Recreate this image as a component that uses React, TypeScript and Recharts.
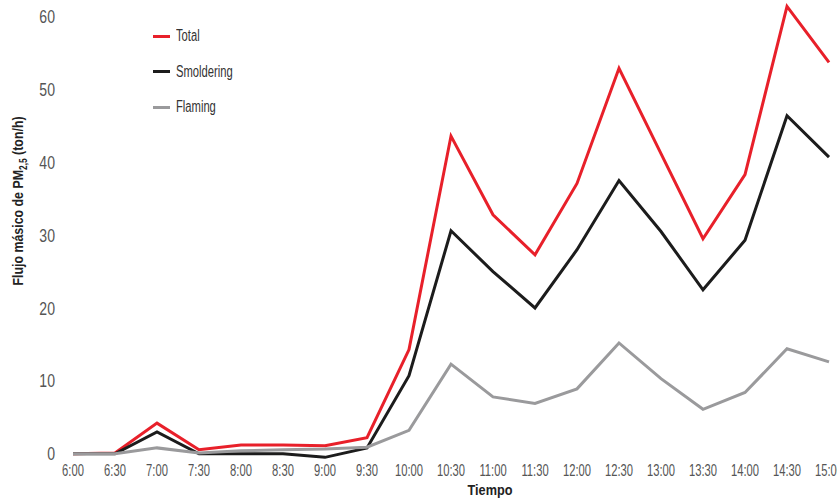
import React from 'react';
import { LineChart, Line, XAxis, YAxis, Legend } from 'recharts';

const times = ['6:00', '6:30', '7:00', '7:30', '8:00', '8:30', '9:00', '9:30', '10:00', '10:30', '11:00', '11:30', '12:00', '12:30', '13:00', '13:30', '14:00', '14:30', '15:00'];
const total = [0, 0.1, 4.2, 0.55, 1.2, 1.2, 1.1, 2.2, 14.3, 43.6, 32.8, 27.3, 37.1, 52.9, 41.2, 29.5, 38.3, 61.4, 53.7];
const smoldering = [0, 0, 3.0, 0, 0, 0, -0.5, 0.8, 10.7, 30.6, 25.0, 20.0, 28.0, 37.5, 30.5, 22.5, 29.3, 46.4, 40.7];
const flaming = [0, 0, 0.8, 0.1, 0.4, 0.55, 0.65, 0.9, 3.2, 12.3, 7.8, 6.9, 8.9, 15.2, 10.3, 6.1, 8.4, 14.4, 12.6];
const yTicks = [0, 10, 20, 30, 40, 50, 60];

const seriesInfo = [
  { key: 'total', name: 'Total', color: '#e8202a' },
  { key: 'smoldering', name: 'Smoldering', color: '#1c1c1c' },
  { key: 'flaming', name: 'Flaming', color: '#9a9a9c' },
];

const data = times.map((t, i) => ({ time: t, total: total[i], smoldering: smoldering[i], flaming: flaming[i] }));

const FONT = '"Liberation Sans", Arial, sans-serif';

const XTick = (props: any) => {
  const { x, y, payload } = props;
  return (
    <text
      x={0}
      y={0}
      transform={`translate(${x},${y + 14.5}) scale(0.68,1)`}
      textAnchor="middle"
      fontFamily={FONT}
      fontSize={16.5}
      fill="#555"
    >
      {payload.value}
    </text>
  );
};

const YTick = (props: any) => {
  const { x, y, payload } = props;
  return (
    <text
      x={0}
      y={0}
      transform={`translate(${x - 18},${y + 6.5}) scale(0.76,1)`}
      textAnchor="end"
      fontFamily={FONT}
      fontSize={18.5}
      fill="#555"
    >
      {payload.value}
    </text>
  );
};

const YLabel = () => (
  <text
    transform="translate(23,201) rotate(-90) scale(0.8,1)"
    textAnchor="middle"
    fontFamily={FONT}
    fontWeight="bold"
    fontSize={15.5}
    fill="#222"
  >
    Flujo másico de PM
    <tspan fontSize={10.5} dy={4}>2,5</tspan>
    <tspan dy={-4}> (ton/h)</tspan>
  </text>
);

const XLabel = () => (
  <text
    transform="translate(490,495) scale(0.82,1)"
    textAnchor="middle"
    fontFamily={FONT}
    fontWeight="bold"
    fontSize={15.5}
    fill="#222"
  >
    Tiempo
  </text>
);

const LegendContent = () => (
  <div style={{ position: 'relative', width: 140, height: 100 }}>
    {seriesInfo.map((s, i) => (
      <div key={s.key} style={{ position: 'absolute', left: 0, top: i * 35.5, height: 20, display: 'flex', alignItems: 'center', whiteSpace: 'nowrap' }}>
        <div style={{ width: 17, height: 3, background: s.color, marginRight: 6 }} />
        <span style={{ fontFamily: FONT, fontSize: 16, color: '#333', transform: 'scaleX(0.7)', transformOrigin: 'left center', display: 'inline-block' }}>
          {s.name}
        </span>
      </div>
    ))}
  </div>
);

export default function App() {
  return (
    <div style={{ position: 'absolute', left: 0, top: 0, width: 837, height: 499, background: '#fff' }}>
      <LineChart width={837} height={499} data={data} margin={{ top: 2, right: 8, left: 0, bottom: 0 }}>
        <XAxis
          dataKey="time"
          scale="point"
          padding={{ left: 0, right: 0 }}
          axisLine={false}
          tickLine={false}
          tickSize={0}
          tickMargin={0}
          height={38}
          interval={0}
          tick={<XTick />}
          label={{ content: () => <XLabel /> }}
        />
        <YAxis
          domain={[-1, 62]}
          ticks={yTicks}
          axisLine={false}
          tickLine={false}
          tickSize={0}
          tickMargin={0}
          width={73}
          interval={0}
          tick={<YTick />}
          label={{ content: () => <YLabel /> }}
        />
        <Legend
          layout="vertical"
          align="center"
          verticalAlign="middle"
          content={() => <LegendContent />}
          wrapperStyle={{ position: 'absolute', left: 153, top: 26, width: 140, height: 100 }}
        />
        {seriesInfo.map((s) => (
          <Line
            key={s.key}
            type="linear"
            dataKey={s.key}
            name={s.name}
            stroke={s.color}
            strokeWidth={3}
            dot={false}
            activeDot={false}
            isAnimationActive={false}
          />
        ))}
      </LineChart>
    </div>
  );
}
